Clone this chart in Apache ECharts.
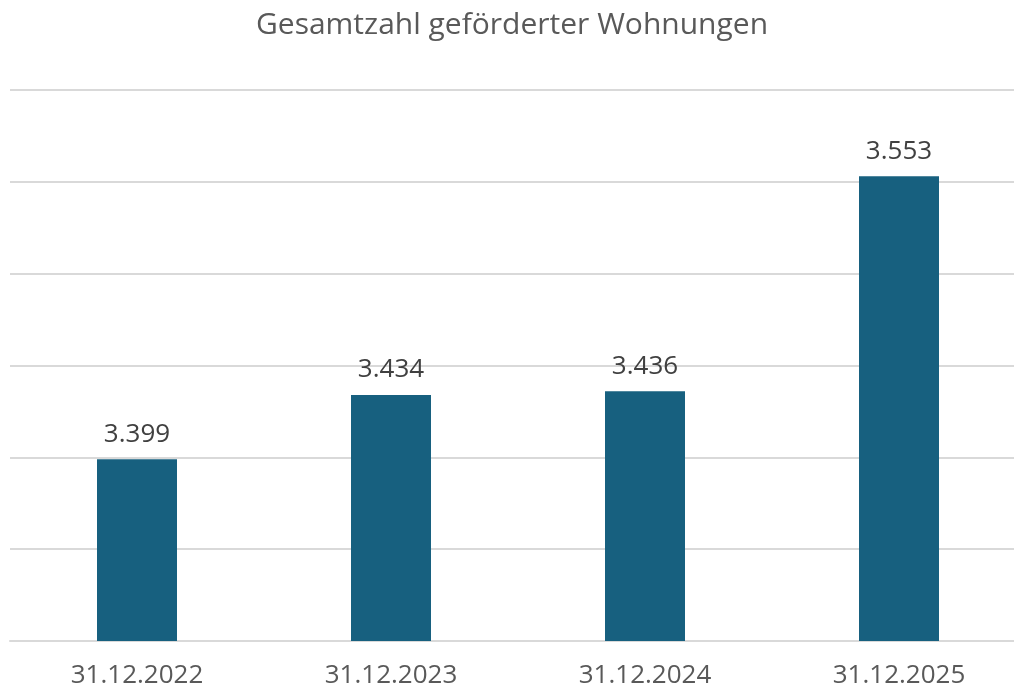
<!DOCTYPE html>
<html>
<head>
<meta charset="utf-8">
<script src="https://cdn.jsdelivr.net/npm/echarts@6/dist/echarts.min.js"></script>
<style>
  html, body { margin: 0; padding: 0; background: #fff; }
  #chart { width: 1014px; height: 693px; }
</style>
</head>
<body>
<div id="chart"></div>
<script>
// Stichtage und Anzahl geförderter Wohnungen
var categories = ['31.12.2022', '31.12.2023', '31.12.2024', '31.12.2025'];
var wohnungen = [3399, 3434, 3436, 3553];

function formatDe(v) {
    return String(v).replace(/\B(?=(\d{3})+(?!\d))/g, '.');
}

var option = {
    backgroundColor: '#ffffff',
    animation: false,
    title: {
        text: 'Gesamtzahl geförderter Wohnungen',
        left: 507,
        textAlign: 'center',
        top: 5,
        textStyle: {
            fontFamily: 'Open Sans',
            fontSize: 30,
            fontWeight: 'normal',
            color: '#595959'
        }
    },
    grid: {
        left: 10,
        top: 90,
        width: 1016,
        height: 551,
        outerBoundsMode: 'none'
    },
    xAxis: {
        type: 'category',
        data: categories,
        axisTick: { show: false },
        axisLine: { lineStyle: { color: '#d9d9d9', width: 2 } },
        axisLabel: {
            fontFamily: 'Open Sans',
            fontSize: 26,
            color: '#595959',
            margin: 22
        }
    },
    yAxis: {
        type: 'value',
        min: 3300,
        max: 3600,
        interval: 50,
        axisLabel: { show: false },
        axisLine: { show: false },
        axisTick: { show: false },
        splitLine: { lineStyle: { color: '#d9d9d9', width: 2 } }
    },
    series: [{
        type: 'bar',
        data: wohnungen,
        barWidth: 80,
        itemStyle: { color: '#17607f' },
        label: {
            show: true,
            position: 'top',
            distance: 12,
            fontFamily: 'Open Sans',
            fontSize: 26,
            color: '#404040',
            formatter: function (p) { return formatDe(p.value); }
        }
    }]
};

var myChart = echarts.init(document.getElementById('chart'));
myChart.setOption(option);
</script>
</body>
</html>
